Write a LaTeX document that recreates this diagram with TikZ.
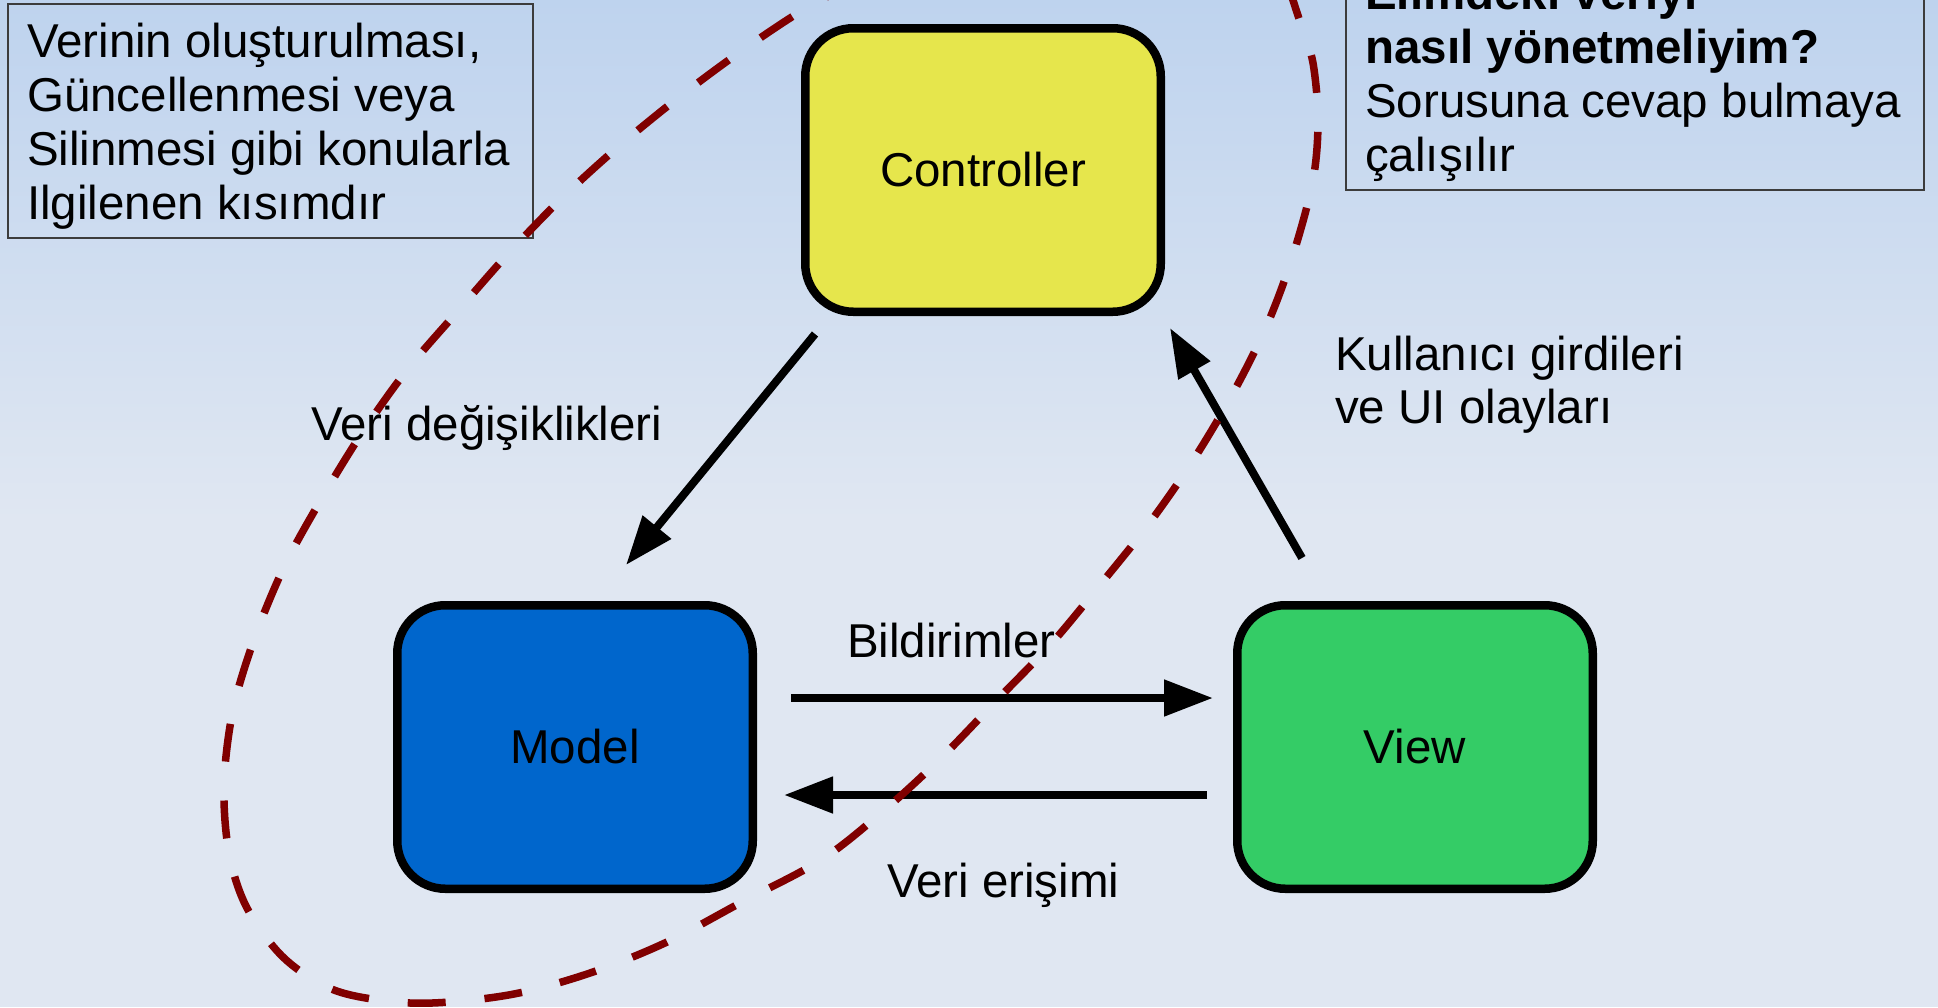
\documentclass[tikz,border=0pt]{standalone}
\usepackage{fontspec}
\setmainfont{Liberation Sans}
\usetikzlibrary{arrows.meta,calc}
\definecolor{bgtop}{RGB}{190,211,238}
\definecolor{bgbot}{RGB}{224,231,242}
\definecolor{ctrlfill}{RGB}{230,230,76}
\definecolor{modelfill}{RGB}{0,102,204}
\definecolor{viewfill}{RGB}{52,204,102}
\definecolor{dkred}{RGB}{128,0,0}
\definecolor{boxline}{RGB}{60,60,60}
\begin{document}
\begin{tikzpicture}[x=1pt,y=-1pt,
  every node/.style={font=\fontsize{47.5}{54.4}\selectfont},
  mvcbox/.style={draw=black, line width=8.5pt, rounded corners=48pt,
    minimum width=355.5pt, minimum height=283.5pt, inner sep=0pt},
  txt/.style={anchor=base west, inner sep=0pt},
  tbox/.style={draw=boxline, line width=1.5pt, inner sep=0pt, anchor=north west},
  flow/.style={line width=8pt, -{Triangle[length=49pt,width=35pt]}},
  region/.style={draw=dkred, line width=7.5pt, dash pattern=on 38pt off 39pt}
]
\clip (0,0) rectangle (1938,1007);
\useasboundingbox (0,0) rectangle (1938,1007);
% background
\fill[top color=bgtop, bottom color=bgbot] (0,0) rectangle (1938,521);
\fill[bgbot] (0,520) rectangle (1938,1007);

% text boxes
\node[tbox, minimum width=525pt, minimum height=234pt] (lbox) at (7,3) {};
\node[txt] (lt1) at (27,57) {Verinin oluşturulması,};
\node[txt] (lt2) at (27,111) {Güncellenmesi veya};
\node[txt] (lt3) at (27,165) {Silinmesi gibi konularla};
\node[txt] (lt4) at (27,219) {Ilgilenen kısımdır};

\node[tbox, minimum width=578pt, minimum height=210pt] (rbox) at (1345,-21) {};
\node[txt, font=\fontsize{47.5}{54.4}\selectfont\bfseries] (rt0) at (1365,9) {Elimdeki veriyi};
\node[txt, font=\fontsize{47.5}{54.4}\selectfont\bfseries] (rt1) at (1365,63) {nasıl yönetmeliyim?};
\node[txt] (rt2) at (1365,117) {Sorusuna cevap bulmaya};
\node[txt] (rt3) at (1365,171) {çalışılır};

% main boxes
\node[mvcbox, fill=ctrlfill] (ctrl) at (983,170) {Controller};
\node[mvcbox, fill=modelfill] (model) at (575,747) {Model};
\node[mvcbox, fill=viewfill] (view) at (1415,747) {View};

% connector end points
\coordinate (cm1) at ($(ctrl.south west)+(14,18)$);
\coordinate (cm2) at ($(model.north west)+(233,-36)$);
\coordinate (vc1) at ($(view.north west)+(69,-43)$);
\coordinate (vc2) at ($(ctrl.south east)+(5,12)$);
\coordinate (mv1) at ($(model.east)+(34,-49)$);
\coordinate (mv2) at ($(view.west)+(-20,-49)$);
\coordinate (vm1) at ($(view.west)+(-26,48)$);
\coordinate (vm2) at ($(model.east)+(27,48)$);

\draw[flow] (cm1) -- (cm2);
\draw[flow] (vc1) -- (vc2);
\draw[flow] (mv1) -- (mv2);
\draw[flow] (vm1) -- (vm2);

% labels
\node[txt] (l1) at (311,440) {Veri değişiklikleri};
\node[txt] (l2) at (1335,370) {Kullanıcı girdileri};
\node[txt] (l3) at (1335,423) {ve UI olayları};
\node[txt] (l4) at (847,657) {Bildirimler};
\node[txt] (l5) at (887,897) {Veri erişimi};

% dashed region
\draw[region] plot[smooth, tension=0.55] coordinates {
 (860,-20) (803,10) (740,52) (678,98) (618,147) (562,198) (507,255)
 (457,312) (407,370) (362,433) (322,498) (285,565) (255,637) (233,710)
 (224,785) (229,853) (247,908) (284,958) (334,990) (396,1002) (450,1002)
 (519,993) (593,972) (667,942) (742,902) (821,860) (881,813) (939,760)
 (996,701) (1051,644) (1100,585) (1148,525) (1192,462) (1232,395)
 (1267,325) (1293,255) (1313,180) (1318,120) (1313,63) (1302,28) (1288,-15)};
\end{tikzpicture}
\end{document}
